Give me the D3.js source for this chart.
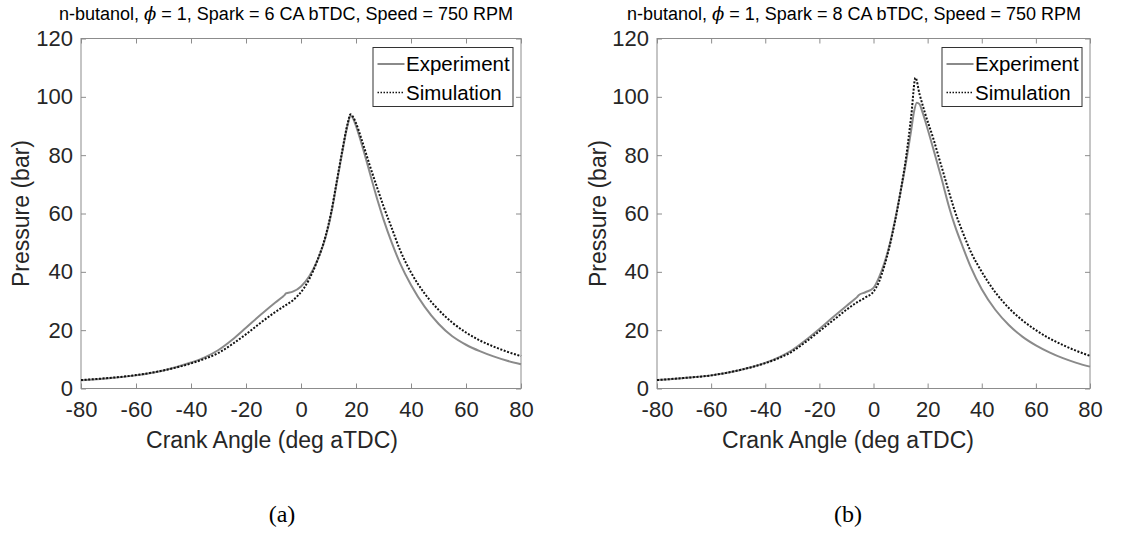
<!DOCTYPE html>
<html><head><meta charset="utf-8">
<script src="https://cdn.jsdelivr.net/npm/d3@7/dist/d3.min.js"></script>
<style>body{margin:0;background:#fff}svg{display:block}</style>
</head><body>
<svg id="chart" width="1124" height="546"></svg>
<script>
// ---------- data ----------
const xTicks = [-80, -60, -40, -20, 0, 20, 40, 60, 80];
const yTicks = [0, 20, 40, 60, 80, 100, 120];
const seriesNames = ["Experiment", "Simulation"];
const titlePre = "n-butanol, ";
const titlePhi = "\u03D5";
const titlePost = [" = 1, Spark = 6 CA bTDC, Speed = 750 RPM", " = 1, Spark = 8 CA bTDC, Speed = 750 RPM"];
const panelLabels = ["(a)", "(b)"];
const xLabel = "Crank Angle (deg aTDC)";
const yLabel = "Pressure (bar)";

// panel (a): spark 6 CA bTDC
const angleA_exp = [-80,-70,-60,-50,-40,-35,-30,-25,-20,-15,-10,-7,-6,-5.5,-3,0,3,6,9,11,13,15,17,18,19,20,22,25,28,30,33,36,40,45,50,55,60,65,70,75,80];
const pressA_exp = [2.8,3.5,4.5,6.2,8.9,10.7,13.2,16.7,20.8,25,29,31.2,32,32.6,33.2,35,38.5,44,52,60,70.5,81,90.5,93.5,92.5,90,84,74,64,58,50,43,35.5,28,22.2,17.9,15,12.8,11,9.5,8.3];
const angleA_sim = [-80,-70,-60,-50,-40,-35,-30,-25,-20,-15,-10,-6,-3,-1,1,3,6,9,11,13,15,17,18,19,20,22,25,28,30,33,36,40,45,50,55,60,65,70,75,80];
const pressA_sim = [2.9,3.6,4.6,6.2,8.6,10.2,12.2,15.2,18.6,22.3,25.8,28.3,30.2,32,34.3,37.5,44,52.5,60.5,71,81.5,91,94,93,91,85.5,76.5,68,62.5,55,47.5,39.8,32.5,27,22.6,19.2,16.5,14.4,12.6,11.1];

// panel (b): spark 8 CA bTDC
const angleB_exp = [-80,-70,-60,-50,-40,-35,-30,-25,-20,-15,-10,-7,-6,-5.5,-3,0,2,4,6,8,10,12,14,15,16,17,18,20,22,25,28,30,33,36,40,45,50,55,60,65,70,75,80];
const pressB_exp = [2.9,3.6,4.5,6.2,8.8,10.7,13.2,16.6,20.4,24.4,28.3,30.6,31.4,32,33,34.5,38,43,49.5,58,67.5,77.5,89,95,98,97.5,95,89,82.5,72.5,62,56,48.5,41.5,34,27,21.8,17.8,14.8,12.4,10.4,8.8,7.5];
const angleB_sim = [-80,-70,-60,-50,-40,-35,-30,-25,-20,-15,-10,-6,-3,0,2,4,6,8,10,12,14,15.5,17,19,22,25,28,30,33,36,40,45,50,55,60,65,70,75,80];
const pressB_sim = [2.9,3.6,4.5,6.2,8.7,10.4,12.7,16,19.6,23.3,27,29.6,31.2,33.2,36.5,42,49,57.5,67.5,79,94,106.5,101,94.5,86,76.5,67,61,53.5,46.8,40,33,27.6,23.4,20,17.2,14.9,12.9,11.2];

// ---------- layout ----------
const panels = [
  {x0: 81, x1: 521, y0: 38.5, y1: 388.5, exp: [angleA_exp, pressA_exp], sim: [angleA_sim, pressA_sim],
   titleX: 286, xlabX: 272, ylabX: 29, legRight: 513, labelX: 282},
  {x0: 657, x1: 1090, y0: 38.5, y1: 388.5, exp: [angleB_exp, pressB_exp], sim: [angleB_sim, pressB_sim],
   titleX: 854, xlabX: 848, ylabX: 606, legRight: 1082, labelX: 848}
];

const svg = d3.select("#chart");
const FONT = "'Liberation Sans', Arial, Helvetica, sans-serif";
const AX = "#8c8c8c", TXT = "#262626";
const fmt = d => String(d);

panels.forEach((p, i) => {
  const x = d3.scaleLinear().domain([-80, 80]).range([p.x0, p.x1]);
  const y = d3.scaleLinear().domain([0, 120]).range([p.y1, p.y0]);
  const g = svg.append("g");

  // axes (ticks inward on all four sides)
  const ax = [
    g.append("g").attr("transform", `translate(0,${p.y1})`).call(d3.axisBottom(x).tickValues(xTicks).tickFormat(fmt).tickSizeInner(-5).tickSizeOuter(0).tickPadding(12.5)),
    g.append("g").attr("transform", `translate(0,${p.y0})`).call(d3.axisTop(x).tickValues(xTicks).tickSizeInner(-5).tickSizeOuter(0).tickFormat("")),
    g.append("g").attr("transform", `translate(${p.x0},0)`).call(d3.axisLeft(y).tickValues(yTicks).tickFormat(fmt).tickSizeInner(-5).tickSizeOuter(0).tickPadding(8)),
    g.append("g").attr("transform", `translate(${p.x1},0)`).call(d3.axisRight(y).tickValues(yTicks).tickSizeInner(-5).tickSizeOuter(0).tickFormat(""))
  ];
  ax.forEach(a => {
    a.select(".domain").remove();
    a.selectAll("line").attr("stroke", AX);
    a.selectAll("text").attr("fill", TXT).style("font-family", FONT).style("font-size", "22px");
  });
  g.append("rect").attr("x", p.x0).attr("y", p.y0).attr("width", p.x1 - p.x0).attr("height", p.y1 - p.y0)
    .attr("fill", "none").attr("stroke", AX).attr("stroke-width", 1);

  // lines
  const line = d3.line().x(d => x(d[0])).y(d => y(d[1])).curve(d3.curveMonotoneX);
  const expPts = p.exp[0].map((a, k) => [a, p.exp[1][k]]);
  const simPts = p.sim[0].map((a, k) => [a, p.sim[1][k]]);
  g.append("path").datum(expPts).attr("d", line).attr("fill", "none").attr("stroke", "#8a8a8a").attr("stroke-width", 2);
  g.append("path").datum(simPts).attr("d", line).attr("fill", "none").attr("stroke", "#111").attr("stroke-width", 2)
    .attr("stroke-dasharray", "2,1.6");

  // title
  const t = g.append("text").attr("x", p.titleX).attr("y", 20).attr("text-anchor", "middle")
    .style("font-family", FONT).style("font-size", "18px").attr("fill", "#000");
  t.append("tspan").text(titlePre);
  t.append("tspan").style("font-style", "italic").style("font-family", "'DejaVu Serif', serif").text(titlePhi);
  t.append("tspan").text(titlePost[i]);

  // axis labels
  g.append("text").attr("x", p.xlabX).attr("y", 448).attr("text-anchor", "middle")
    .style("font-family", FONT).style("font-size", "23px").attr("fill", TXT).text(xLabel);
  g.append("text").attr("transform", `translate(${p.ylabX},${(p.y0 + p.y1) / 2}) rotate(-90)`).attr("text-anchor", "middle")
    .style("font-family", FONT).style("font-size", "23px").attr("fill", TXT).text(yLabel);

  // legend
  const lw = 140, lh = 59;
  const lx = p.legRight - lw, ly = 47.5;
  const lg = g.append("g");
  lg.append("rect").attr("x", lx).attr("y", ly).attr("width", lw).attr("height", lh)
    .attr("fill", "#fff").attr("stroke", "#333").attr("stroke-width", 1);
  seriesNames.forEach((n, k) => {
    const cy = ly + 16.5 + k * 28.5;
    lg.append("line").attr("x1", lx + 4.5).attr("x2", lx + 31.5).attr("y1", cy).attr("y2", cy)
      .attr("stroke", k === 0 ? "#8a8a8a" : "#111").attr("stroke-width", k === 0 ? 2 : 1.5)
      .attr("stroke-dasharray", k === 0 ? null : "1.5,1.5");
    lg.append("text").attr("x", lx + 33).attr("y", cy).attr("dy", "0.35em")
      .style("font-family", FONT).style("font-size", "20.5px").attr("fill", "#000").text(n);
  });

  // panel label
  svg.append("text").attr("x", p.labelX).attr("y", 522).attr("text-anchor", "middle")
    .style("font-family", "'Liberation Serif', 'Times New Roman', serif").style("font-size", "24px").attr("fill", "#000")
    .text(panelLabels[i]);
});
</script>
</body></html>
